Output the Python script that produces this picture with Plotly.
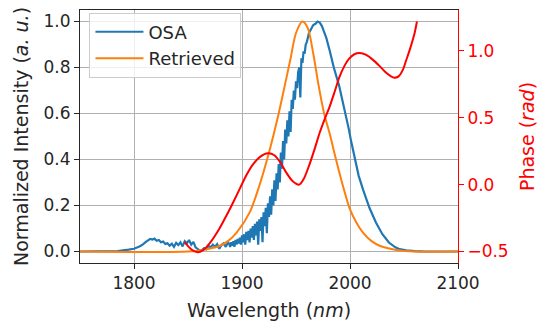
import plotly.graph_objects as go

# ---------------- data ----------------
osa_wl = [1750, 1770, 1785, 1795, 1800, 1805, 1808, 1811, 1813, 1815, 1817, 1819, 1821, 1823, 1825,
          1827, 1829, 1831, 1833, 1835, 1837, 1839, 1841, 1843, 1845, 1847, 1849, 1851, 1853, 1855,
          1857, 1859, 1861, 1863, 1865, 1867, 1869, 1871, 1873, 1875, 1877, 1879, 1881, 1883, 1885,
          1887,
          1888, 1889, 1890, 1891, 1892, 1893, 1894, 1895, 1896, 1897, 1898, 1899, 1900, 1901, 1902,
          1903, 1904, 1905, 1906, 1907, 1908, 1909, 1910, 1911, 1912, 1913, 1914, 1915, 1916, 1917,
          1918, 1919, 1920, 1921, 1922, 1923, 1924, 1925, 1926, 1927, 1928, 1929, 1930, 1931, 1932,
          1933, 1934, 1935, 1936, 1937, 1938, 1939, 1940, 1941, 1942, 1943, 1944, 1945, 1946, 1947,
          1948, 1949, 1950, 1951, 1952, 1953, 1954, 1955, 1956, 1957, 1958, 1959, 1960,
          1962, 1964, 1966, 1968, 1970, 1972, 1974,
          1976, 1978, 1981, 1985, 1990, 1993, 1996, 1999, 2001, 2005, 2008, 2012, 2018, 2024, 2030,
          2036, 2042, 2046, 2052, 2060, 2070, 2100]
osa_int = [0.0, 0.0, 0.002, 0.008, 0.012, 0.022, 0.03, 0.042, 0.05, 0.055, 0.052, 0.056, 0.047, 0.05, 0.04,
           0.043, 0.033, 0.036, 0.025, 0.034, 0.02, 0.038, 0.028, 0.04, 0.022, 0.045, 0.036, 0.05, 0.03, 0.042,
           0.018, 0.01, 0.004, 0.006, 0.015, 0.01, 0.025, 0.018, 0.03, 0.02, 0.032, 0.012, 0.028, 0.035, 0.02,
           0.04,
           0.035, 0.02, 0.04, 0.025, 0.045, 0.02, 0.05, 0.03, 0.055, 0.035, 0.06, 0.03, 0.07, 0.04, 0.075,
           0.03, 0.085, 0.05, 0.09, 0.04, 0.10, 0.06, 0.11, 0.05, 0.12, 0.07, 0.13, 0.03, 0.14, 0.09,
           0.15, 0.04, 0.17, 0.11, 0.19, 0.08, 0.21, 0.15, 0.24, 0.16, 0.27, 0.20, 0.31, 0.22, 0.34,
           0.27, 0.38, 0.30, 0.43, 0.36, 0.48, 0.40, 0.53, 0.47, 0.57, 0.50, 0.61, 0.52, 0.66, 0.62,
           0.70, 0.66, 0.74, 0.71, 0.78, 0.80, 0.67, 0.84, 0.82, 0.87, 0.86, 0.90, 0.91,
           0.95, 0.97, 0.985, 0.99, 1.0, 0.995, 0.98,
           0.955, 0.93, 0.877, 0.80, 0.72, 0.66, 0.59, 0.53, 0.48, 0.39, 0.33, 0.27, 0.19, 0.126, 0.075,
           0.039, 0.018, 0.01, 0.005, 0.002, 0.0, 0.0]

ret_wl = [1750, 1850, 1865, 1879, 1887, 1895, 1907, 1916, 1925, 1933, 1940, 1945, 1950, 1956, 1961,
          1966, 1971, 1976, 1981, 1986, 1991, 2000, 2006, 2012, 2020, 2028, 2043, 2060, 2100]
ret_int = [0.0, 0.0, 0.008, 0.024, 0.045, 0.082, 0.169, 0.285, 0.43, 0.58, 0.73, 0.84, 0.95, 1.0, 0.97,
           0.86, 0.72, 0.60, 0.516, 0.42, 0.328, 0.183, 0.125, 0.082, 0.045, 0.024, 0.007, 0.0, 0.0]

ph_wl = [1847, 1850, 1854, 1859, 1864, 1870, 1879, 1887, 1892, 1898, 1904, 1910, 1917, 1924, 1930,
         1936, 1941, 1947, 1953, 1957, 1962, 1967, 1972, 1977, 1981, 1986, 1990, 1995, 1999, 2004,
         2009, 2015, 2021, 2027, 2033, 2038, 2041, 2045, 2049, 2052, 2055, 2058, 2060, 2062]
ph_val = [-0.43, -0.46, -0.49, -0.505, -0.49, -0.44, -0.33, -0.21, -0.13, -0.03, 0.07, 0.15, 0.21, 0.235, 0.22,
          0.16, 0.09, 0.025, 0.0, 0.04, 0.14, 0.26, 0.39, 0.50, 0.58, 0.70, 0.80, 0.89, 0.94, 0.975,
          0.985, 0.97, 0.935, 0.89, 0.84, 0.81, 0.80, 0.81, 0.86, 0.93, 1.0, 1.08, 1.14, 1.22]

x_ticks = [1800, 1900, 2000, 2100]
y_ticks = [0.0, 0.2, 0.4, 0.6, 0.8, 1.0]
y2_ticks = [-0.5, 0.0, 0.5, 1.0]

FONT = "DejaVu Sans"
FS = 16
TFS = 17
TXT = "#262626"

fig = go.Figure()
fig.add_trace(go.Scatter(x=osa_wl, y=osa_int, name="OSA", mode="lines",
                         line=dict(color="#1f77b4", width=2.2)))
fig.add_trace(go.Scatter(x=ret_wl, y=ret_int, name="Retrieved", mode="lines",
                         line=dict(color="#ff7f0e", width=2, shape="spline", smoothing=0.8)))
fig.add_trace(go.Scatter(x=ph_wl, y=ph_val, name="Phase", mode="lines", yaxis="y2",
                         showlegend=False,
                         line=dict(color="#ff0000", width=2, shape="spline", smoothing=0.8)))

fig.update_layout(
    width=546, height=322,
    margin=dict(l=80, r=88, t=10, b=59, autoexpand=False),
    paper_bgcolor="white", plot_bgcolor="white",
    font=dict(family=FONT, size=FS, color=TXT),
    showlegend=True,
    legend=dict(x=0.025, y=0.99, xanchor="left", yanchor="top", itemwidth=48,
                bgcolor="rgba(255,255,255,0.8)", bordercolor="#cccccc", borderwidth=1,
                font=dict(family=FONT, size=18, color=TXT), tracegroupgap=0),
    xaxis=dict(range=[1750, 2100], tickvals=x_ticks, ticks="outside", ticklen=5, tickwidth=1,
               tickcolor=TXT, showline=True, linecolor=TXT, linewidth=1, mirror=True,
               tickfont=dict(size=TFS), automargin=False,
               showgrid=True, gridcolor="#b0b0b0", gridwidth=1, zeroline=False,
               title=dict(text="Wavelength (<i>nm</i>)", standoff=11)),
    yaxis=dict(range=[-0.05, 1.05], tickvals=y_ticks, tickformat=".1f", ticks="outside", ticklen=5,
               tickwidth=1, tickcolor=TXT, showline=True, linecolor=TXT, linewidth=1,
               tickfont=dict(size=TFS), automargin=False,
               showgrid=True, gridcolor="#b0b0b0", gridwidth=1, zeroline=False,
               title=dict(text="Normalized Intensity (<i>a. u.</i>)", standoff=9)),
    yaxis2=dict(range=[-0.586, 1.306], tickvals=y2_ticks, tickformat=".1f", overlaying="y", side="right",
                ticks="outside", ticklen=5, tickwidth=1, tickcolor="#ff0000", showline=True,
                linecolor="#ff0000", linewidth=1, showgrid=False, zeroline=False, automargin=False,
                tickfont=dict(color="#ff0000", size=TFS),
                title=dict(text="Phase (<i>rad</i>)", font=dict(color="#ff0000"), standoff=13)),
)

fig.write_html("out.html", config={"displayModeBar": False},
               post_script="document.body.style.margin='0';document.body.style.overflow='hidden';")
